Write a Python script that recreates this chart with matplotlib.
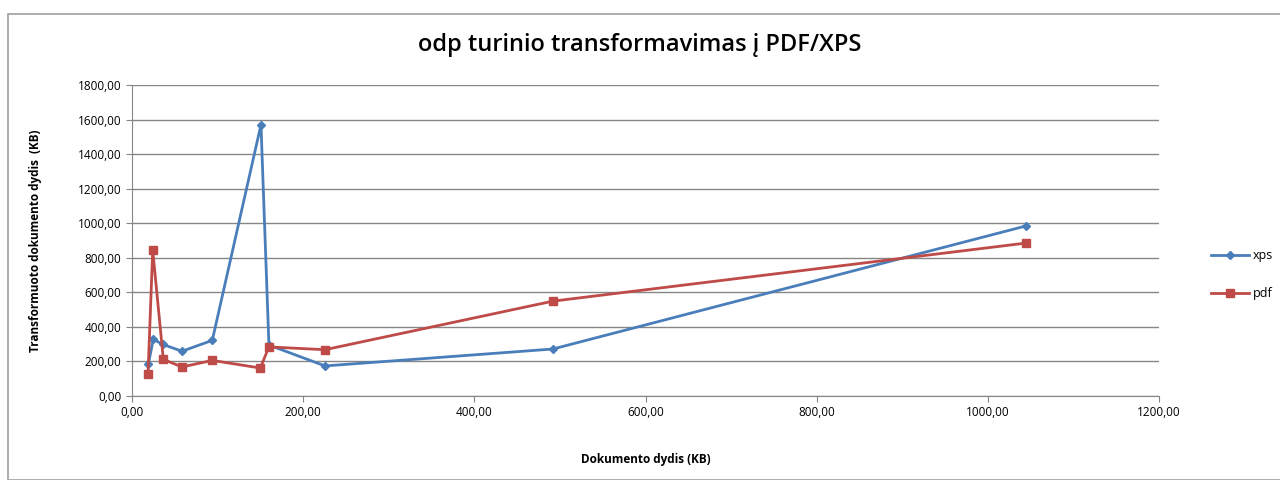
import matplotlib
matplotlib.use('Agg')
import matplotlib.pyplot as plt
from matplotlib.patches import Rectangle
from matplotlib.ticker import FuncFormatter, MultipleLocator

xps_x = [19.1, 24.9, 35.8, 58.4, 93.8, 150.7, 160.0, 225.5, 491.8, 1044.4]
xps_y = [185, 328, 299, 259, 322, 1570, 295, 174, 272, 984]
pdf_x = [18.7, 24.2, 36.6, 58.4, 93.8, 149.9, 160.0, 225.5, 491.8, 1044.4]
pdf_y = [125, 845, 212, 168, 206, 162, 284, 268, 549, 885]

plt.rcParams['font.family'] = ['Open Sans', 'DejaVu Sans']

fig = plt.figure(figsize=(12.8, 4.8), dpi=100)
fig.patches.append(Rectangle((8/1280, 0), 1.0, 1 - 14/480, transform=fig.transFigure,
                             fill=False, edgecolor='#a0a0a0', linewidth=1.2))
ax = fig.add_axes([132/1280, 1 - 396/480, (1159-132)/1280, (396-85)/480])

ax.plot(xps_x, xps_y, color='#4a7ebb', lw=2, marker='D', ms=4, label='xps')
ax.plot(pdf_x, pdf_y, color='#be4b48', lw=2, marker='s', ms=6, label='pdf')

ax.set_xlim(0, 1200)
ax.set_ylim(0, 1800)
ax.xaxis.set_major_locator(MultipleLocator(200))
ax.yaxis.set_major_locator(MultipleLocator(200))
fmt = FuncFormatter(lambda v, p: f'{v:.2f}'.replace('.', ','))
ax.xaxis.set_major_formatter(fmt)
ax.yaxis.set_major_formatter(fmt)
ax.tick_params(labelsize=8.5, direction='out', length=4, color='#868686')
ax.grid(axis='y', color='#868686', lw=1)
ax.set_axisbelow(True)
for s in ['top', 'right']:
    ax.spines[s].set_visible(False)
for s in ['left', 'bottom']:
    ax.spines[s].set_color('#868686')

ax.set_xlabel('Dokumento dydis (KB)', fontsize=8.5, fontweight='bold', labelpad=24)
ax.set_ylabel('Transformuoto dokumento dydis  (KB)', fontsize=8.5, fontweight='bold', labelpad=26)
fig.text(0.5, 1 - 45/480, 'odp turinio transformavimas į PDF/XPS', ha='center', va='center',
         fontsize=17, fontweight='semibold')

ax.legend(loc='center left', bbox_to_anchor=(1.04, 0.39), frameon=False, fontsize=9,
          handlelength=3, labelspacing=2.0, handletextpad=0.3)

plt.savefig('out.png', dpi=100)
